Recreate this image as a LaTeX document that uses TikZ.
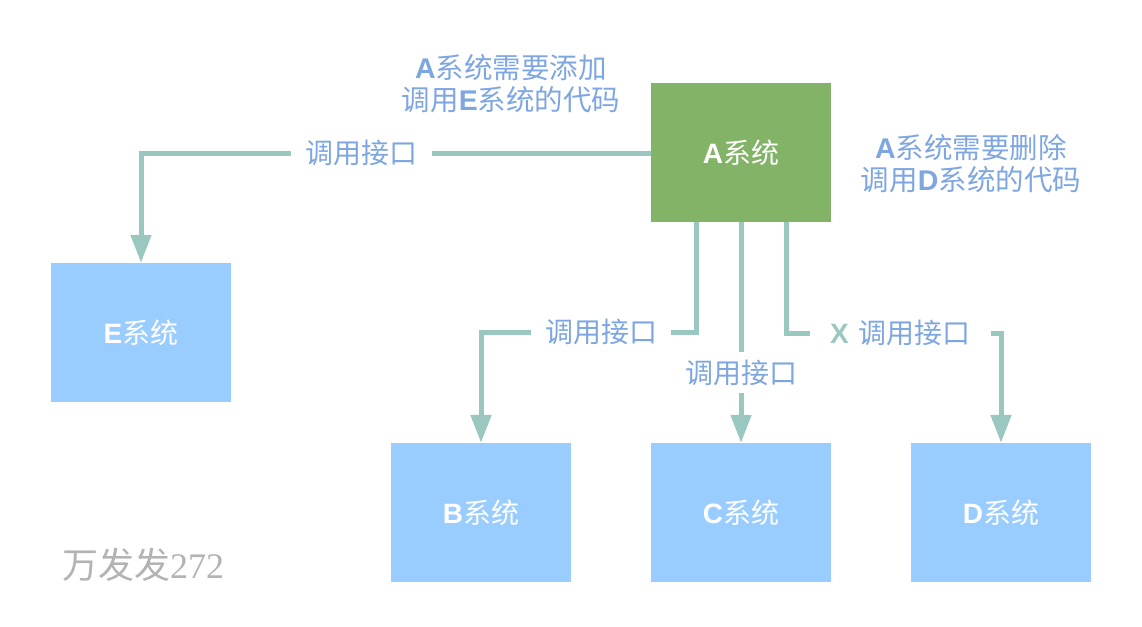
\documentclass[tikz,border=0pt]{standalone}
\usepackage{fontspec}
\setmainfont{Liberation Sans}
\newfontfamily\zhfont{Noto Sans CJK SC}
\newfontfamily\serifnum{Liberation Serif}
\usetikzlibrary{arrows.meta}
\definecolor{linecol}{HTML}{9AC7BF}
\definecolor{txtcol}{HTML}{7EA6E0}
\definecolor{agreen}{HTML}{82B366}
\definecolor{bblue}{HTML}{99CCFF}
\definecolor{wmgray}{HTML}{B3B3B3}
\newcommand{\lat}[1]{{\bfseries #1}}
\newcommand{\zh}[1]{{\zhfont #1}}
\begin{document}
\begin{tikzpicture}[x=1pt,y=-1pt,
  sysbox/.style={rectangle,minimum width=180pt,minimum height=139pt,inner sep=0pt,text=white,font=\fontsize{28}{32}\selectfont},
  conn/.style={draw=linecol,line width=5pt},
  arr/.style={conn,-{Triangle[width=20pt,length=28pt]}},
  lbl/.style={inner sep=0pt,text=txtcol,font=\fontsize{28}{32}\selectfont},
  note/.style={inner sep=0pt,text=txtcol,align=center,font=\fontsize{28.5}{32}\selectfont}]
\useasboundingbox (0,0) rectangle (1142,626);
% boxes
\node[sysbox,fill=agreen] (A) at (741,152.5) {\lat{A}\zh{系统}};
\node[sysbox,fill=bblue] (E) at (141,332.5) {\lat{E}\zh{系统}};
\node[sysbox,fill=bblue] (B) at (481,512.5) {\lat{B}\zh{系统}};
\node[sysbox,fill=bblue] (C) at (741,512.5) {\lat{C}\zh{系统}};
\node[sysbox,fill=bblue] (D) at (1001,512.5) {\lat{D}\zh{系统}};
% connector labels
\node[lbl,minimum width=141pt,minimum height=30pt] (lblE) at (361.5,153) {\zh{调用接口}};
\node[lbl,minimum width=140pt,minimum height=30pt] (lblB) at (601,332) {\zh{调用接口}};
\node[lbl,minimum width=110pt,minimum height=41pt] (lblC) at (741,372.5) {\zh{调用接口}};
\node[lbl,minimum width=181pt,minimum height=30pt] (lblD) at (900.5,333) {\textcolor{linecol}{\lat{X}}\hspace{10pt}\zh{调用接口}};
% connectors
\draw[conn] (A.west |- lblE.east) -- (lblE.east);
\draw[arr] (lblE.west) -| (E.north);
\draw[conn] ([xshift=-45pt]A.south) |- (lblB.east);
\draw[arr] (lblB.west) -| (B.north);
\draw[conn] (A.south) -- (lblC.north);
\draw[arr] (lblC.south) -- (C.north);
\draw[conn] ([xshift=45pt]A.south) |- (lblD.west);
\draw[arr] (lblD.east) -| (D.north);
% notes
\node[note] (n1) at (511,84) {\lat{A}\zh{系统需要添加}\\\zh{调用}\lat{E}\zh{系统的代码}};
\node[note] (n2) at (971,164) {\lat{A}\zh{系统需要删除}\\\zh{调用}\lat{D}\zh{系统的代码}};
% watermark
\node[inner sep=0pt,text=wmgray,font=\fontsize{36}{40}\selectfont] (wm) at (143,565) {\zh{万发发}{\serifnum 272}};
\end{tikzpicture}
\end{document}
